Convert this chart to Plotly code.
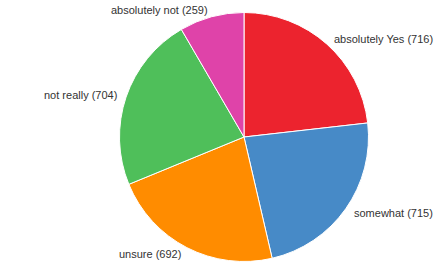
import math
import plotly.graph_objects as go

labels = ["absolutely Yes", "somewhat", "unsure", "not really", "absolutely not"]
values = [716, 715, 692, 704, 259]
colors = ["#ec232e", "#478ac7", "#ff8c00", "#4fbf5a", "#df43a9"]

W, H = 445, 277
cx, cy, r = 244, 137, 124.5

fig = go.Figure(go.Pie(
    labels=labels, values=values, sort=False, direction="clockwise", rotation=0,
    marker=dict(colors=colors, line=dict(color="white", width=1)),
    textinfo="none", hoverinfo="label+value", showlegend=False,
    domain=dict(x=[(cx - r) / W, (cx + r) / W], y=[(H - cy - r) / H, (H - cy + r) / H]),
))

total = sum(values)
acc = 0
R = r + 7.5
annotations = []
for lab, v in zip(labels, values):
    mid = (acc + v / 2) / total * 2 * math.pi
    acc += v
    px = cx + R * math.sin(mid)
    py = cy - R * math.cos(mid)
    annotations.append(dict(
        x=px / W, y=(H - py) / H, xref="paper", yref="paper",
        text=f"{lab} ({v})", showarrow=False,
        xanchor="left" if math.sin(mid) > 0 else "right", yanchor="middle",
        font=dict(family="Liberation Sans, Arial", size=11, color="#333"),
    ))

fig.update_layout(
    width=W, height=H, margin=dict(l=0, r=0, t=0, b=0),
    paper_bgcolor="white", plot_bgcolor="white",
    annotations=annotations,
)
fig.write_html("out.html")
